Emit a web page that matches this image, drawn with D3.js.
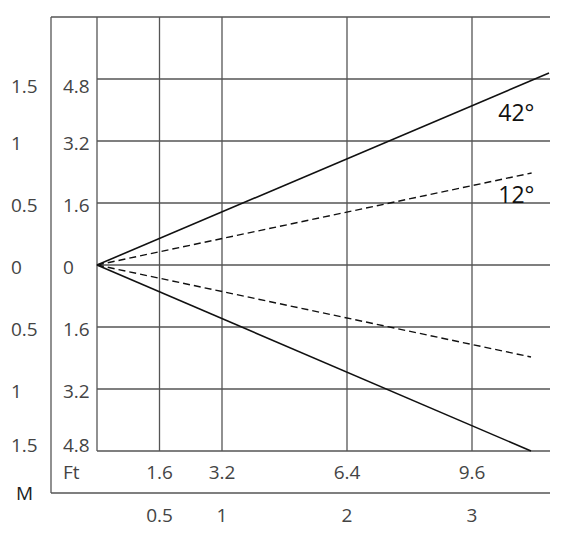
<!DOCTYPE html>
<html><head><meta charset="utf-8">
<script src="https://cdn.jsdelivr.net/npm/d3@7/dist/d3.min.js"></script>
<style>body{margin:0;background:#fff}svg{display:block}text{font-family:"Open Sans",sans-serif}</style>
</head><body><div id="c"></div>
<script>
// Data
const xMeterTicks = [0.5, 1, 2, 3];
const xFeetLabels = ["1.6", "3.2", "6.4", "9.6"];
const yMeterValues = [1.5, 1, 0.5, 0, -0.5, -1, -1.5];
const yMeterLabels = ["1.5", "1", "0.5", "0", "0.5", "1", "1.5"];
const yFeetLabels = ["4.8", "3.2", "1.6", "0", "1.6", "3.2", "4.8"];
const beam42Upper = [[0, 0], [3.616, 1.548]];
const beam42Lower = [[0, 0], [3.472, -1.5]];
const beam12Upper = [[0, 0], [3.477, 0.742]];
const beam12Lower = [[0, 0], [3.472, -0.742]];
const beamLabels = [{text: "42°", x: 3.21, y: 1.165}, {text: "12°", x: 3.21, y: 0.5}];

const W = 574, H = 540;
const svg = d3.select("#c").append("svg").attr("width", W).attr("height", H);
const x = d3.scaleLinear().domain([0, 3.624]).range([97, 550]);
const y = d3.scaleLinear().domain([-1.5, 2.0]).range([451, 17]);
const gridColor = "#555", lblColor = "#444";
const outerLeft = 51, outerBottom = 493;

const g = svg.append("g").attr("stroke", gridColor).attr("stroke-width", 1.3).attr("fill", "none");
// outer frame lines
g.append("line").attr("x1", outerLeft).attr("x2", x.range()[1]).attr("y1", y(2)).attr("y2", y(2));
g.append("line").attr("x1", outerLeft).attr("x2", outerLeft).attr("y1", y(2)).attr("y2", outerBottom);
g.append("line").attr("x1", outerLeft).attr("x2", x.range()[1]).attr("y1", outerBottom).attr("y2", outerBottom);
// vertical grid
g.selectAll(".v").data([0].concat(xMeterTicks)).join("line")
  .attr("x1", d => x(d)).attr("x2", d => x(d)).attr("y1", y(2)).attr("y2", y(-1.5));
// horizontal grid
g.selectAll(".h").data(yMeterValues).join("line")
  .attr("x1", x(0)).attr("x2", x.range()[1]).attr("y1", d => y(d)).attr("y2", d => y(d));

// beams
const line = d3.line().x(d => x(d[0])).y(d => y(d[1]));
const bg = svg.append("g").attr("fill", "none").attr("stroke", "#111");
[beam42Upper, beam42Lower].forEach(b => bg.append("path").attr("d", line(b)).attr("stroke-width", 1.6));
[beam12Upper, beam12Lower].forEach(b => bg.append("path").attr("d", line(b)).attr("stroke-width", 1.4).attr("stroke-dasharray", "7,4"));

// labels
const fs = 19;
const yOff = v => v === 1.5 ? 7 : (v === -1.5 ? -6 : 2);
const tl = svg.append("g").attr("fill", lblColor).style("font-size", fs + "px");
tl.selectAll(".ym").data(yMeterValues).join("text")
  .attr("x", 11).attr("y", (d, i) => y(d) + yOff(d)).attr("dy", "0.35em").text((d, i) => yMeterLabels[i]);
tl.selectAll(".yf").data(yMeterValues).join("text")
  .attr("x", 63).attr("y", (d, i) => y(d) + yOff(d)).attr("dy", "0.35em").text((d, i) => yFeetLabels[i]);
tl.selectAll(".xf").data(xMeterTicks).join("text")
  .attr("x", d => x(d)).attr("y", 472).attr("dy", "0.35em").attr("text-anchor", "middle").text((d, i) => xFeetLabels[i]);
tl.selectAll(".xm").data(xMeterTicks).join("text")
  .attr("x", d => x(d)).attr("y", 515).attr("dy", "0.35em").attr("text-anchor", "middle").text(d => d);
tl.append("text").attr("x", 63).attr("y", 472).attr("dy", "0.35em").text("Ft");
tl.append("text").attr("x", 16).attr("y", 493).attr("dy", "0.35em").attr("fill", "#222").text("M");

svg.append("g").attr("fill", "#111").style("font-size", "23px").selectAll("text").data(beamLabels).join("text")
  .attr("x", d => x(d.x)).attr("y", d => y(d.y)).text(d => d.text);
</script></body></html>
